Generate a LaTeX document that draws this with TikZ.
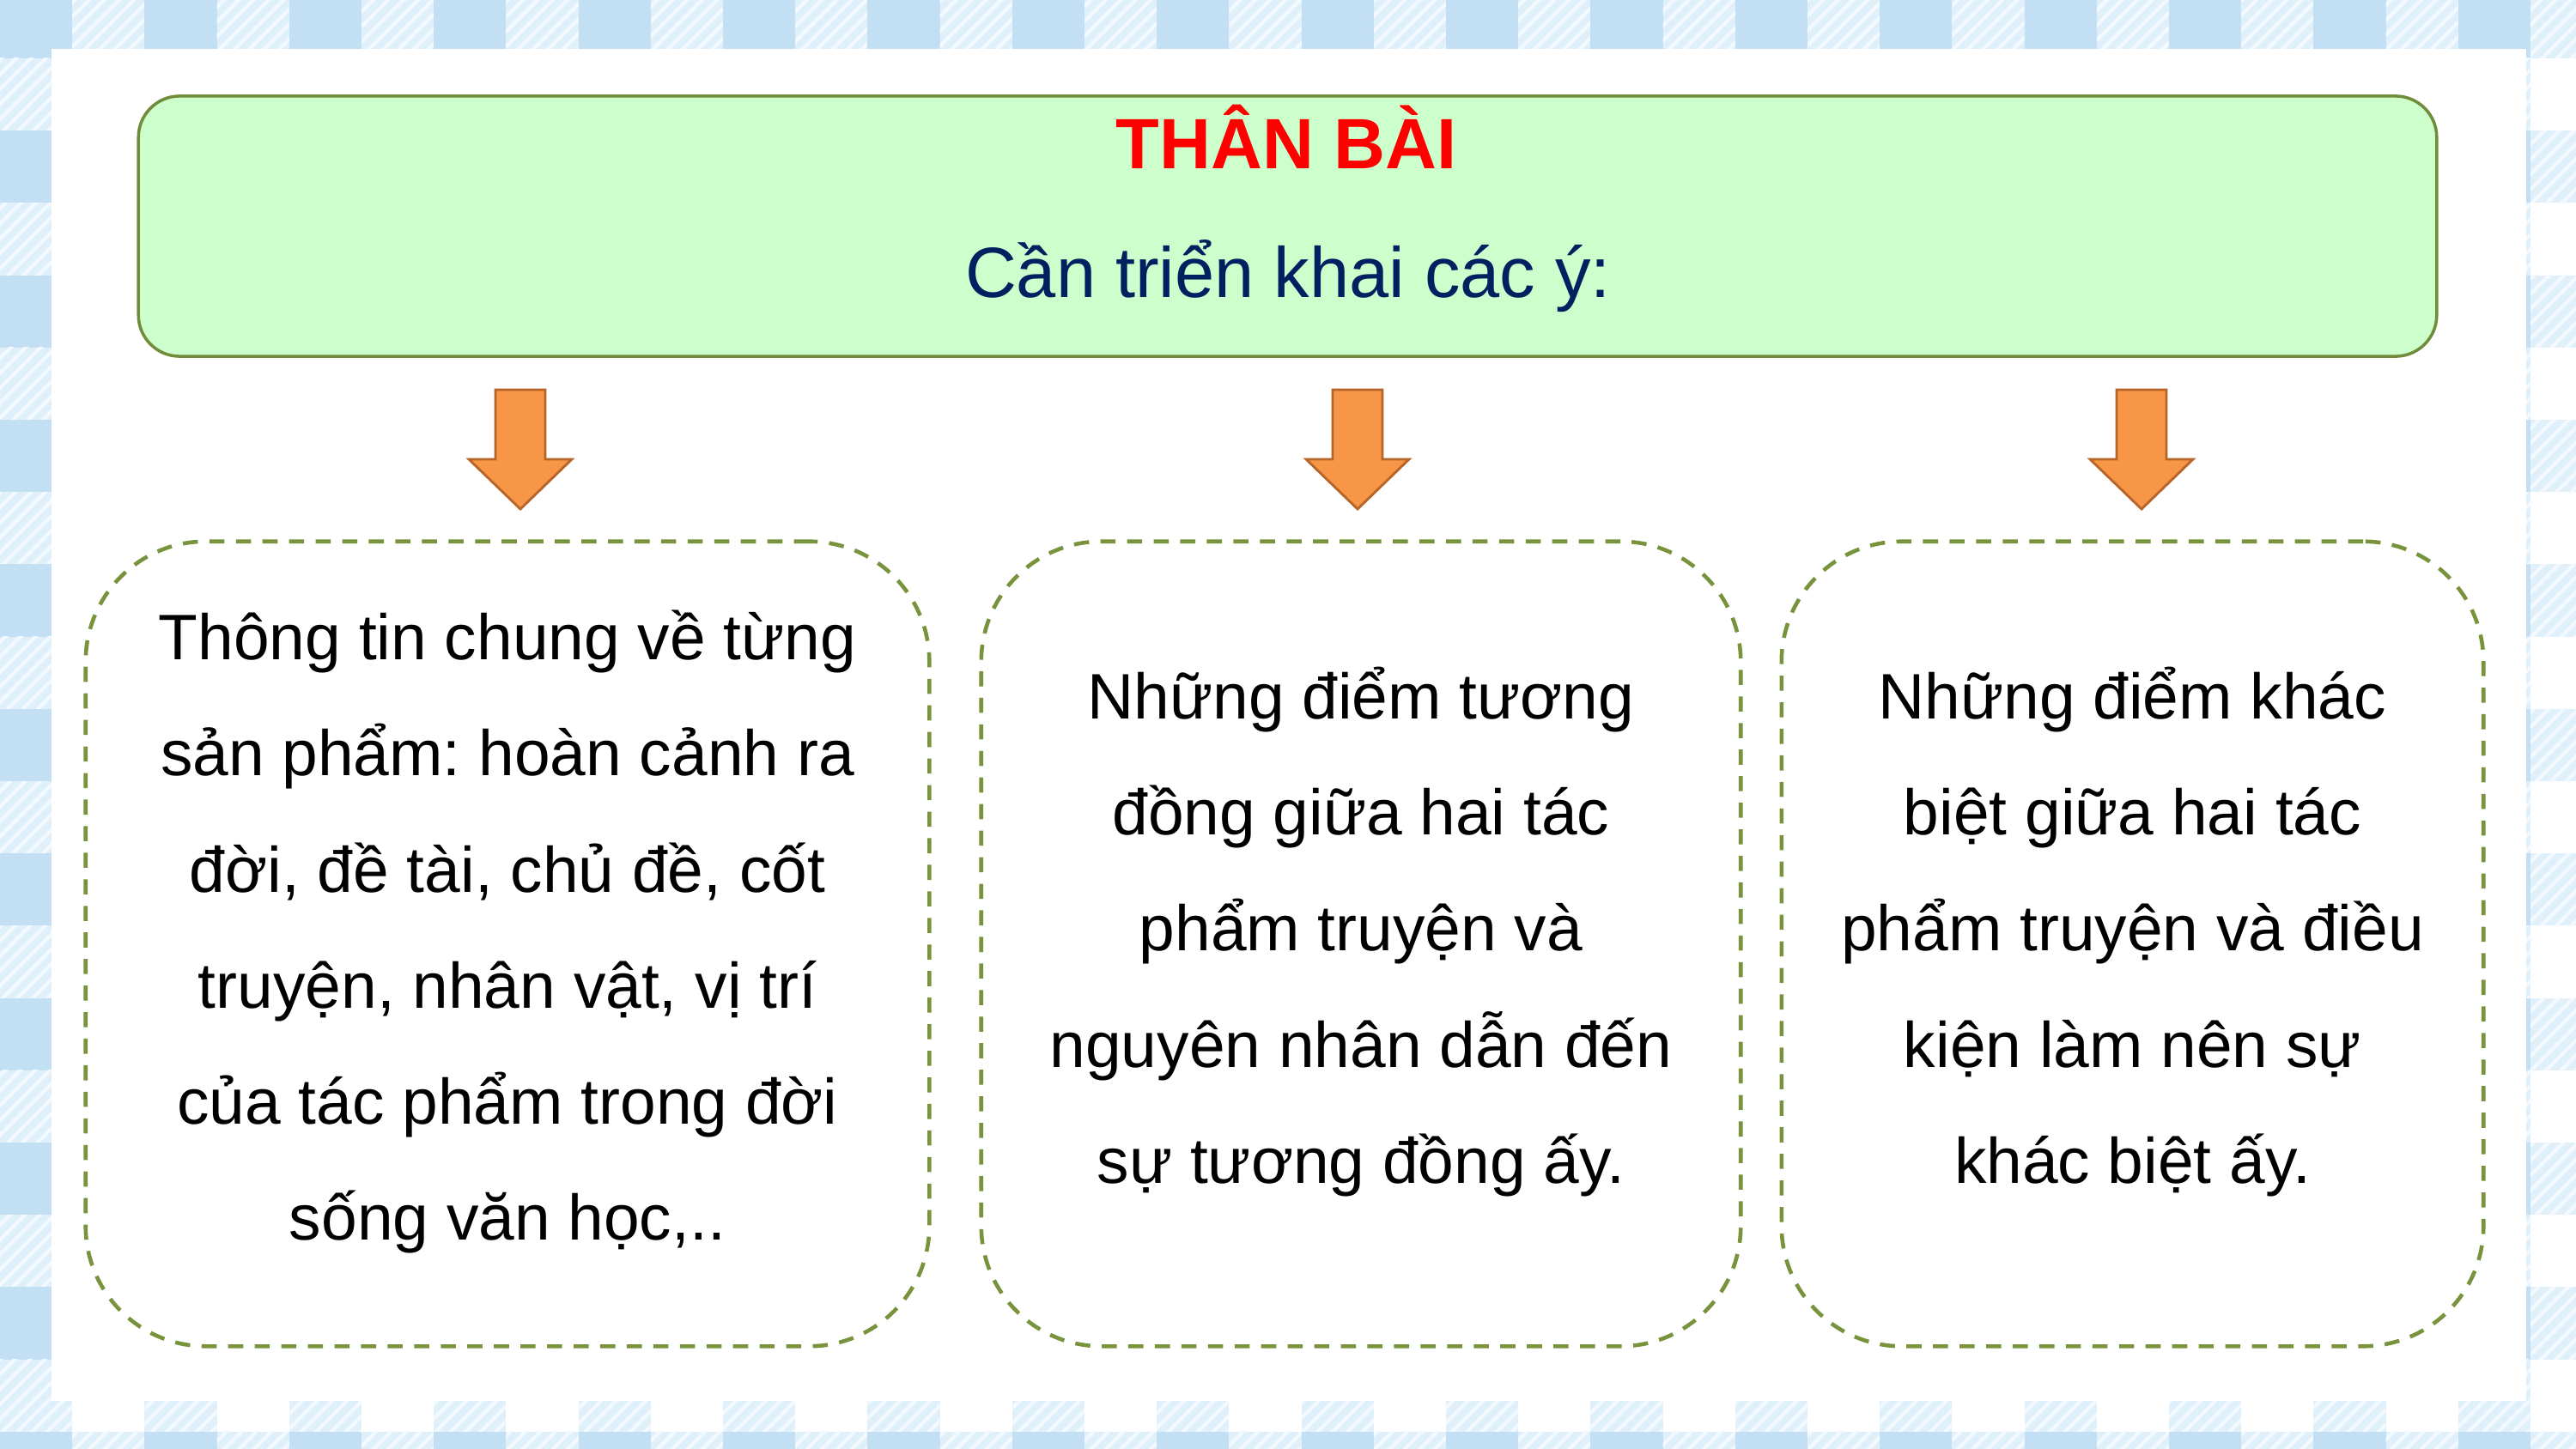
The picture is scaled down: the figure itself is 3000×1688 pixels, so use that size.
\documentclass[tikz,border=0pt]{standalone}
\usepackage{fontspec}
\setmainfont{Liberation Sans}
\frenchspacing
\usetikzlibrary{positioning,patterns.meta}

\definecolor{gingham}{RGB}{195,223,243}
\definecolor{ginghamlt}{RGB}{224,240,251}
\definecolor{stripe}{RGB}{243,249,254}
\definecolor{headfill}{RGB}{204,255,204}
\definecolor{headline}{RGB}{112,140,58}
\definecolor{dashline}{RGB}{119,147,60}
\definecolor{arrowfill}{RGB}{247,150,70}
\definecolor{arrowline}{RGB}{182,100,40}
\definecolor{titlered}{RGB}{255,0,0}
\definecolor{navy}{RGB}{0,32,96}

\tikzset{
  headbox/.style={draw=headline,fill=headfill,line width=1pt,rounded corners=0.48cm,minimum width=26.75cm,minimum height=3.03cm},
  ideabox/.style={draw=dashline,line width=1.3pt,dash pattern=on 5pt off 3.8pt,rounded corners=1.4cm,minimum height=9.37cm},
  ideatext/.style={align=center,font=\fontsize{21.3}{38.4}\selectfont},
  blockarrow/.style={draw=arrowline,fill=arrowfill,line width=0.8pt,line join=miter}
}

\begin{document}
\begin{tikzpicture}[x=0.01cm,y=-0.01cm]
	\useasboundingbox (0,0) rectangle (3000,1688);
	\begin{scope}
	\clip (0,0) rectangle (3000,1688);
	\foreach \i in {0,...,35}{
		\foreach \j in {0,...,20}{
			\pgfmathtruncatemacro\k{mod(\i,2)+mod(\j,2)}
			\ifnum\k=0 \fill[gingham] (\i*84.2,\j*84.2-16.2) rectangle ++(84.2,84.2);\fi
			\ifnum\k=1 \fill[ginghamlt] (\i*84.2,\j*84.2-16.2) rectangle ++(84.2,84.2);
			\fill[pattern={Lines[angle=45,distance=3.5pt,line width=1.2pt]},pattern color=stripe] (\i*84.2,\j*84.2-16.2) rectangle ++(84.2,84.2);\fi
		}
	}
	\end{scope}
	\fill[white] (60,57) rectangle (2942,1632);

	\node[headbox] (head) at (1499.5,263.5) {};
	\node[anchor=base,text=titlered,font=\fontsize{23.6}{28}\selectfont\bfseries] (title) at (1498,197) {THÂN BÀI};
	\node[anchor=base,text=navy,font=\fontsize{23.6}{28}\selectfont] (sub) at (1500,346) {Cần triển khai các ý:};

	\coordinate (arr1) at (606,454);
	\coordinate (arr2) at (1581,454);
	\coordinate (arr3) at (2494,454);
	\foreach \a in {arr1,arr2,arr3}
		\draw[blockarrow] (\a) ++(-29,0) -- ++(58,0) -- ++(0,81) -- ++(31,0) -- ++(-60,58) -- ++(-60,-58) -- ++(31,0) -- cycle;

	\node[ideabox,minimum width=9.82cm] (idea1) at (591,1099.5) {};
	\node[ideabox,minimum width=8.84cm] (idea2) at (1585,1099.5) {};
	\node[ideabox,minimum width=8.17cm] (idea3) at (2483.5,1099.5) {};

	\node[ideatext] (txt1) at ([yshift=1.4mm]idea1.center) {Thông tin chung về từng\\sản phẩm: hoàn cảnh ra\\đời, đề tài, chủ đề, cốt\\truyện, nhân vật, vị trí\\của tác phẩm trong đời\\sống văn học,..};
	\node[ideatext] (txt2) at ([yshift=1.4mm]idea2.center) {Những điểm tương\\đồng giữa hai tác\\phẩm truyện và\\nguyên nhân dẫn đến\\sự tương đồng ấy.};
	\node[ideatext] (txt3) at ([yshift=1.4mm]idea3.center) {Những điểm khác\\biệt giữa hai tác\\phẩm truyện và điều\\kiện làm nên sự\\khác biệt ấy.};
\end{tikzpicture}
\end{document}
